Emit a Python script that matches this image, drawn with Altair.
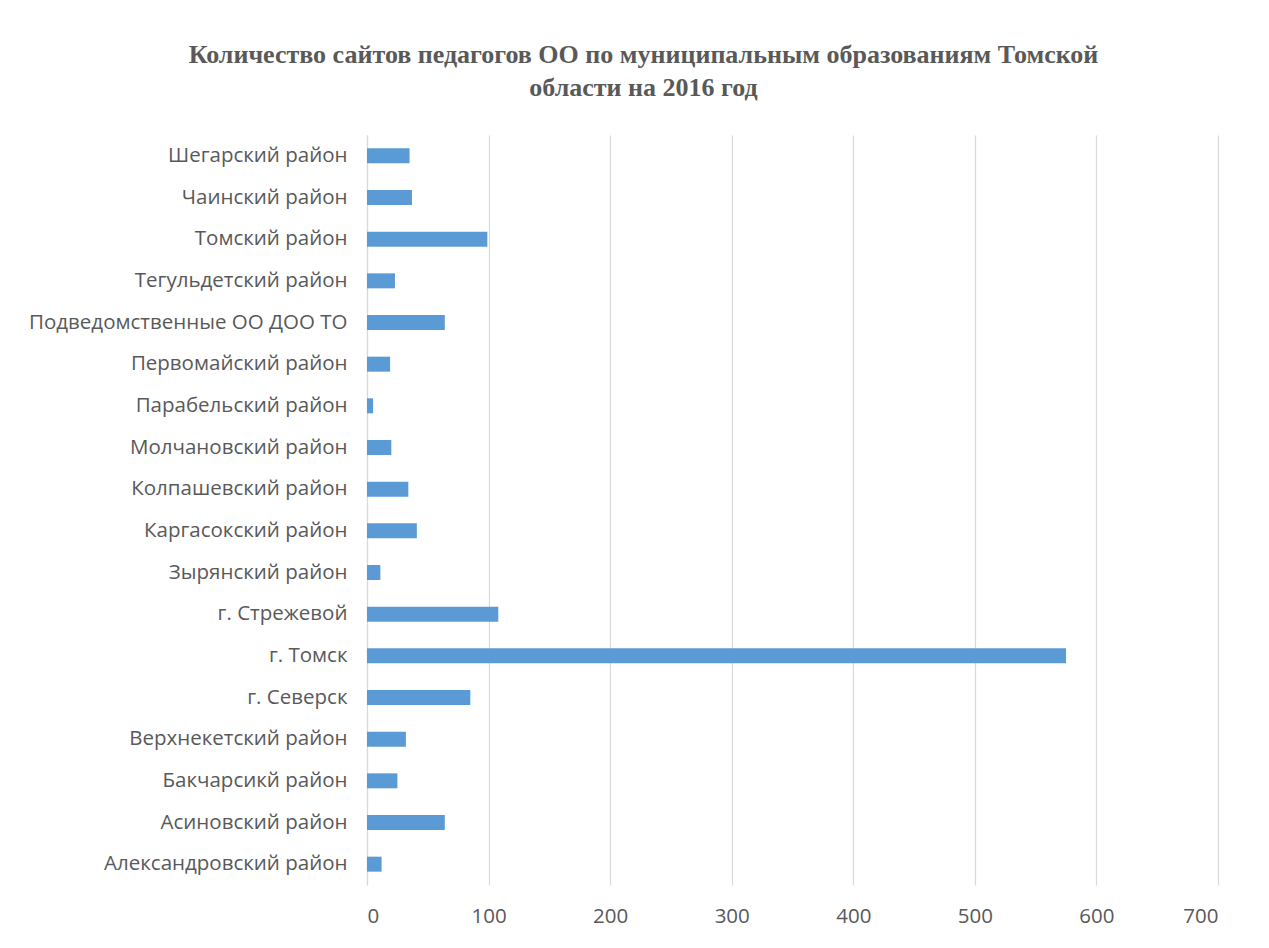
import altair as alt
import pandas as pd

categories = [
    "Шегарский район\u00a0",
    "Чаинский район\u00a0",
    "Томский район",
    "Тегульдетский район",
    "Подведомственные ОО ДОО ТО",
    "Первомайский район",
    "Парабельский район",
    "Молчановский район",
    "Колпашевский район",
    "Каргасокский район",
    "Зырянский район",
    "г. Стрежевой",
    "г. Томск",
    "г. Северск",
    "Верхнекетский район",
    "Бакчарсикй район",
    "Асиновский район",
    "Александровский район",
]
values = [35, 37, 99, 23, 64, 19, 5, 20, 34, 41, 11, 108, 575, 85, 32, 25, 64, 12]

df = pd.DataFrame({"name": categories, "value": values})

label_font = "Open Sans"

chart = (
    alt.Chart(df)
    .mark_bar(color="#5b9bd5")
    .encode(
        x=alt.X(
            "value:Q",
            scale=alt.Scale(domain=[0, 700]),
            axis=alt.Axis(
                title=None,
                values=[0, 100, 200, 300, 400, 500, 600, 700],
                grid=True,
                gridColor="#d9d9d9",
                gridWidth=1.2,
                domain=False,
                ticks=False,
                labelFont=label_font,
                labelFontSize=20.5,
                labelColor="#595959",
                labelPadding=21,
            ),
        ),
        y=alt.Y(
            "name:N",
            sort=categories,
            scale=alt.Scale(paddingInner=0.64, paddingOuter=0.32),
            axis=alt.Axis(
                title=None,
                domain=True,
                domainColor="#d9d9d9",
                domainWidth=1.2,
                ticks=False,
                labelFont=label_font,
                labelFontSize=20.5,
                labelColor="#595959",
                labelPadding=20,
                labelLimit=400,
                minExtent=354,
                maxExtent=354,
            ),
        ),
    )
    .properties(
        width=851,
        height=750,
        title=alt.TitleParams(
            text=[
                "Количество сайтов педагогов ОО по муниципальным образованиям Томской",
                "области на 2016 год",
            ],
            font="Liberation Serif",
            fontSize=26,
            fontWeight="bold",
            color="#595959",
            lineHeight=33,
            anchor="middle",
            frame="bounds",
            dx=28,
            offset=34,
        ),
        padding={"left": 5, "top": 34, "right": 40, "bottom": 5},
    )
    .configure_view(stroke=None)
)

chart.save("out.html", embed_options={"renderer": "svg", "actions": False})
